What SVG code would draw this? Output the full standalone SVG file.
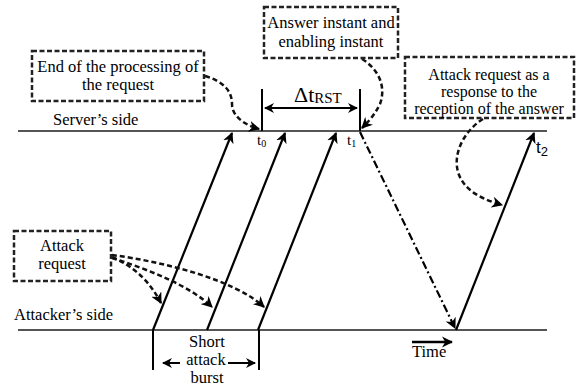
<svg xmlns="http://www.w3.org/2000/svg" width="576" height="386" viewBox="0 0 576 386">
<defs>
<marker id="ah" viewBox="0 0 10 10" refX="9" refY="5" markerWidth="5" markerHeight="5" orient="auto-start-reverse" markerUnits="strokeWidth">
<path d="M0,0 L10,5 L0,10 L3,5 z" fill="#000"/>
</marker>
<marker id="ahs" viewBox="0 0 10 10" refX="9" refY="5" markerWidth="4.5" markerHeight="4.5" orient="auto-start-reverse" markerUnits="strokeWidth">
<path d="M0,0 L10,5 L0,10 L3,5 z" fill="#000"/>
</marker>
</defs>
<rect width="576" height="386" fill="#fff"/>

<g id="axes">
<line stroke="#555" stroke-width="2" x1="18" y1="131" x2="547" y2="131"/>
<text x="53" y="125" font-family="Liberation Serif" font-size="16.5">Server’s side</text>
<line stroke="#555" stroke-width="2" x1="18" y1="330" x2="547" y2="330"/>
<text x="14" y="320" font-family="Liberation Serif" font-size="16.5">Attacker’s side</text>
</g>

<g id="connectors" fill="none">
<g stroke="#000" stroke-width="2.2" marker-end="url(#ah)">
<line x1="153" y1="330" x2="232" y2="133"/>
<line x1="207" y1="330" x2="285" y2="133"/>
<line x1="258" y1="330" x2="336" y2="133"/>
<line x1="456" y1="330" x2="534" y2="133"/>
<line stroke-dasharray="8 3 2 3" x1="360" y1="132" x2="455" y2="328"/>
</g>
<g stroke="#111" stroke-width="2.5" stroke-dasharray="5 3" marker-end="url(#ahs)">
<path d="M205,76 C225,82 232,92 232,104 C232,118 248,126 259,129"/>
<path d="M362,59 C380,70 386,88 380,104 C374,116 368,122 362,128"/>
<path d="M483,119 C468,128 452,150 458,172 C464,192 485,200 502,205"/>
<path d="M112,257 C135,267 150,282 161,303"/>
<path d="M112,258 C150,270 190,286 212,307"/>
<path d="M112,255 C165,262 235,280 264,307"/>
</g>
</g>

<g id="delta-rst">
<line stroke="#000" stroke-width="2" x1="262" y1="89" x2="262" y2="131"/>
<line stroke="#000" stroke-width="2" x1="360" y1="89" x2="360" y2="131"/>
<line stroke="#000" stroke-width="2" marker-start="url(#ah)" marker-end="url(#ah)" x1="265" y1="108" x2="357" y2="108"/>
<text x="294" y="102" font-family="Liberation Serif" font-size="22">Δt<tspan font-size="15" dy="1">RST</tspan></text>
</g>

<g id="t-labels">
<text x="257" y="145" font-family="Liberation Serif" font-size="15">t<tspan font-size="10" dy="2">0</tspan></text>
<text x="347" y="145" font-family="Liberation Serif" font-size="15">t<tspan font-size="10" dy="2">1</tspan></text>
<text x="536" y="153" font-family="Liberation Sans" font-size="17">t<tspan font-size="13" dy="3">2</tspan></text>
</g>

<g id="box-end-processing">
<rect fill="#fff" stroke="#222" stroke-width="2.5" stroke-dasharray="5 2.5" x="32" y="51" width="172" height="50"/>
<text x="118" y="72" text-anchor="middle" font-family="Liberation Serif" font-size="16.5">End of the processing of</text>
<text x="118" y="90" text-anchor="middle" font-family="Liberation Serif" font-size="16.5">the request</text>
</g>

<g id="box-answer-instant">
<rect fill="#fff" stroke="#222" stroke-width="2.5" stroke-dasharray="5 2.5" x="264" y="7" width="134" height="51"/>
<text x="331" y="28" text-anchor="middle" font-family="Liberation Serif" font-size="16.5">Answer instant and</text>
<text x="331" y="47" text-anchor="middle" font-family="Liberation Serif" font-size="16.5">enabling instant</text>
</g>

<g id="box-attack-response">
<rect fill="#fff" stroke="#222" stroke-width="2.5" stroke-dasharray="5 2.5" x="405" y="57" width="169" height="61"/>
<text x="489" y="80" text-anchor="middle" font-family="Liberation Serif" font-size="16">Attack request as a</text>
<text x="489" y="97" text-anchor="middle" font-family="Liberation Serif" font-size="16">response to the</text>
<text x="489" y="114" text-anchor="middle" font-family="Liberation Serif" font-size="16">reception of the answer</text>
</g>

<g id="box-attack-request">
<rect fill="#fff" stroke="#222" stroke-width="2.5" stroke-dasharray="5 2.5" x="14" y="231" width="97" height="50"/>
<text x="62" y="251" text-anchor="middle" font-family="Liberation Serif" font-size="16.5">Attack</text>
<text x="62" y="269" text-anchor="middle" font-family="Liberation Serif" font-size="16.5">request</text>
</g>

<g id="burst">
<line stroke="#000" stroke-width="2" x1="153" y1="330" x2="153" y2="370"/>
<line stroke="#000" stroke-width="2" x1="259" y1="330" x2="259" y2="370"/>
<line stroke="#000" stroke-width="2" x1="180" y1="363" x2="163" y2="363" marker-end="url(#ah)"/>
<line stroke="#000" stroke-width="2" x1="228" y1="363" x2="255" y2="363" marker-end="url(#ah)"/>
<text x="207" y="347" text-anchor="middle" font-family="Liberation Serif" font-size="16.5">Short</text>
<text x="206" y="365" text-anchor="middle" font-family="Liberation Serif" font-size="16.5">attack</text>
<text x="207" y="383" text-anchor="middle" font-family="Liberation Serif" font-size="16.5">burst</text>
</g>

<g id="time">
<line stroke="#000" stroke-width="2.5" x1="412" y1="342" x2="452" y2="342" marker-end="url(#ahs)"/>
<text x="412" y="357" font-family="Liberation Serif" font-size="16.5">Time</text>
</g>
</svg>
